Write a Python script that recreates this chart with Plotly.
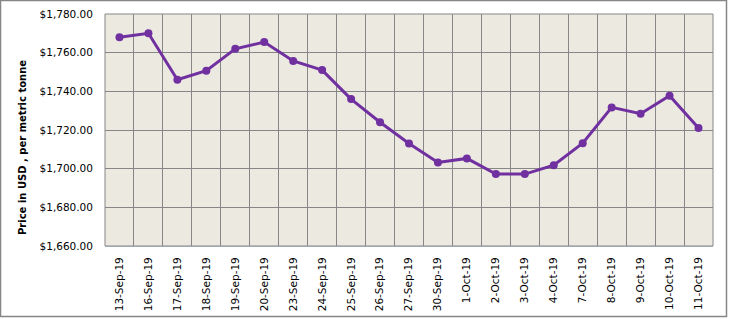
import plotly.graph_objects as go

dates = ["13-Sep-19", "16-Sep-19", "17-Sep-19", "18-Sep-19", "19-Sep-19", "20-Sep-19",
         "23-Sep-19", "24-Sep-19", "25-Sep-19", "26-Sep-19", "27-Sep-19", "30-Sep-19",
         "1-Oct-19", "2-Oct-19", "3-Oct-19", "4-Oct-19", "7-Oct-19", "8-Oct-19",
         "9-Oct-19", "10-Oct-19", "11-Oct-19"]
prices = [1768, 1770, 1746, 1750.7, 1762, 1765.5,
          1755.7, 1751, 1736, 1724, 1713, 1703.2,
          1705.3, 1697.2, 1697.2, 1701.8, 1713.2, 1731.7,
          1728.4, 1737.7, 1721]
y_ticks = [1660, 1680, 1700, 1720, 1740, 1760, 1780]
y_title = "Price in USD , per metric tonne"

W, H = 729, 319
L, R, T, B = 105, 16, 14, 73

fig = go.Figure()
fig.add_trace(go.Scatter(
    x=dates, y=prices, mode="lines+markers",
    line=dict(color="#7030A0", width=3),
    marker=dict(color="#7030A0", size=8),
    showlegend=False,
))

pw = W - L - R
ph = H - T - B
fig.add_shape(type="rect", xref="paper", yref="paper",
              x0=(0.5 - L) / pw, x1=(W - 2.5 - L) / pw,
              y0=-(H - 2.5 - T - ph) / ph, y1=1 + (T - 0.5) / ph,
              line=dict(color="#868686", width=1.5), layer="below")

fig.add_annotation(text="<b>" + y_title + "</b>", textangle=-90,
                   xref="paper", yref="paper",
                   x=(22 - L) / pw, y=1 - (148 - T) / ph,
                   showarrow=False, font=dict(size=10, family="DejaVu Sans"),
                   xanchor="center", yanchor="middle")

fig.update_layout(
    width=W, height=H,
    margin=dict(l=L, r=R, t=T, b=B, autoexpand=False),
    paper_bgcolor="white",
    plot_bgcolor="#ECE9E0",
    font=dict(family="DejaVu Sans", size=10, color="black"),
    xaxis=dict(
        type="category", tickson="boundaries", tickangle=-90,
        showgrid=True, gridcolor="#868686", gridwidth=1,
        showline=True, linecolor="#B9CDE5", linewidth=1,
        ticks="", ticklen=0, tickfont=dict(size=10.5),
        ticklabelstandoff=6, automargin=False,
        range=[-0.5, len(dates) - 0.5],
    ),
    yaxis=dict(
        range=[1660, 1780], tickvals=y_ticks, tickformat="$,.2f",
        showgrid=True, gridcolor="#868686", gridwidth=1,
        showline=False, zeroline=False, ticks="",
        tickfont=dict(size=10.5), ticklabelstandoff=11, automargin=False,
    ),
)
fig.add_shape(type="rect", xref="paper", yref="paper", x0=0, x1=1, y0=0, y1=1,
              line=dict(color="#868686", width=1))

fig.write_html("out.html")
